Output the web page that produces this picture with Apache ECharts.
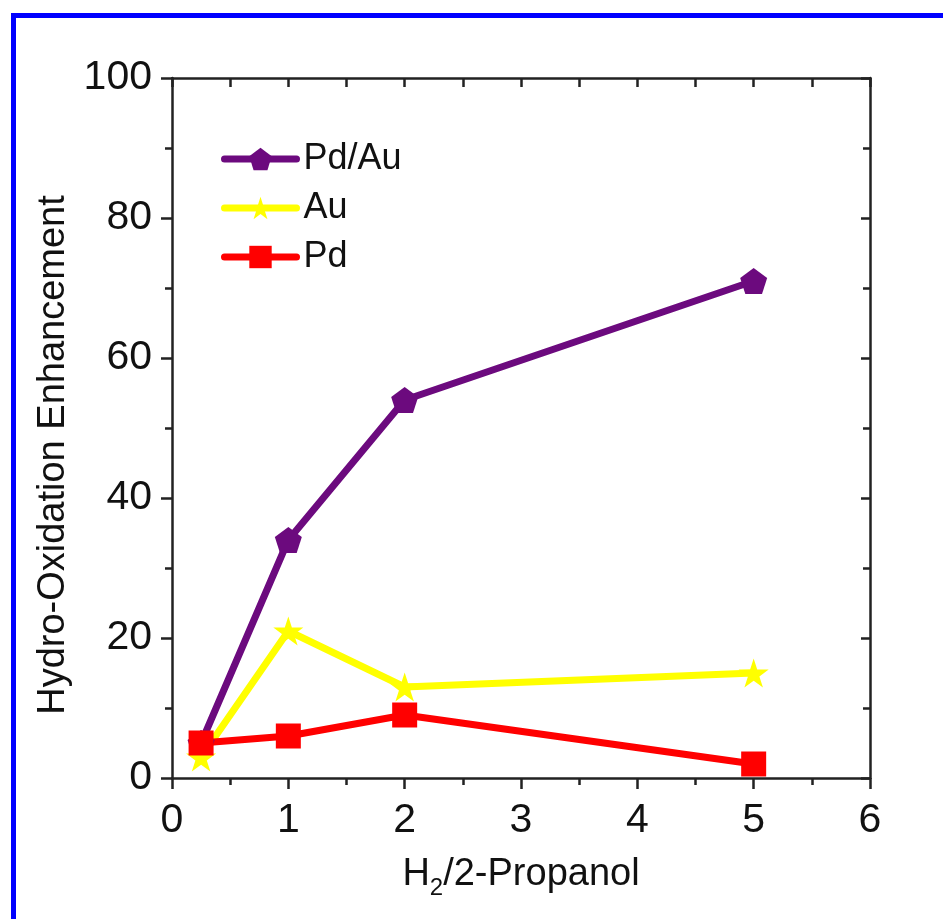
<!DOCTYPE html>
<html>
<head>
<meta charset="utf-8">
<script src="https://cdn.jsdelivr.net/npm/echarts@6/dist/echarts.min.js"></script>
<style>
  html, body { margin: 0; padding: 0; background: #fff; }
  #chart { width: 943px; height: 919px; }
</style>
</head>
<body>
<div id="chart"></div>
<script>
// H2/2-propanol ratio
const ratios = [0.25, 1, 2, 5];
const pdAu = [5, 34, 54, 71];
const au = [3, 21, 13, 15];
const pd = [5, 6, 9, 2];

const xTicks = { min: 0, max: 6, interval: 1 };
const yTicks = { min: 0, max: 100, interval: 20 };

const font = "Liberation Sans, Arial, Helvetica, sans-serif";
const pentagon = "path://M0,-1 L0.951,-0.309 L0.588,0.809 L-0.588,0.809 L-0.951,-0.309 Z";
const star = "path://M0,-1 L0.2245,-0.309 L0.951,-0.309 L0.363,0.118 L0.588,0.809 L0,0.382 L-0.588,0.809 L-0.363,0.118 L-0.951,-0.309 L-0.2245,-0.309 Z";

const pairs = (ys) => ratios.map((x, i) => [x, ys[i]]);

const axisLine = { show: true, onZero: false, lineStyle: { color: "#222", width: 2.5 } };
const tickStyle = { color: "#222", width: 2.5 };

const chart = echarts.init(document.getElementById("chart"));
chart.setOption({
  animation: false,
  backgroundColor: "#fff",
  graphic: [{
    type: "rect",
    left: 11, top: 13,
    shape: { width: 1000, height: 1000 },
    style: { fill: "none", stroke: "#0000ff", lineWidth: 5 },
    silent: true
  }],
  grid: { left: 172, right: 73, top: 78, bottom: 141 },
  legend: {
    orient: "vertical",
    left: 216, top: 136,
    itemWidth: 72, itemHeight: 28, itemGap: 13,
    lineStyle: { width: 7, cap: "round" },
    textStyle: { fontFamily: font, fontSize: 36, color: "#111", padding: [0, 0, 0, 2] },
    data: ["Pd/Au", "Au", "Pd"]
  },
  xAxis: [{
    type: "value", position: "bottom", ...xTicks,
    name: "{a|H}{s|2}{a|/2-Propanol}",
    nameLocation: "middle", nameGap: 72,
    nameTextStyle: {
      rich: {
        a: { fontFamily: font, fontSize: 38, color: "#111" },
        s: { fontFamily: font, fontSize: 24, color: "#111", padding: [26, 0, 0, 0] }
      }
    },
    axisLine,
    axisTick: { show: true, inside: false, length: 11, lineStyle: tickStyle },
    minorTick: { show: true, splitNumber: 2, length: 7, lineStyle: tickStyle },
    axisLabel: { fontFamily: font, fontSize: 41, color: "#111", margin: 22 },
    splitLine: { show: false }
  }, {
    type: "value", position: "top", ...xTicks,
    axisLine,
    axisTick: { show: true, inside: true, length: 9, lineStyle: tickStyle },
    minorTick: { show: true, splitNumber: 2, length: 9, lineStyle: tickStyle },
    axisLabel: { show: false },
    splitLine: { show: false }
  }],
  yAxis: [{
    type: "value", position: "left", ...yTicks,
    name: "Hydro-Oxidation Enhancement",
    nameLocation: "middle", nameGap: 84,
    nameTextStyle: { fontFamily: font, fontSize: 38, color: "#111", padding: [0, 54, 0, 0] },
    axisLine,
    axisTick: { show: true, inside: false, length: 11, lineStyle: tickStyle },
    minorTick: { show: true, splitNumber: 2, length: 7, lineStyle: tickStyle },
    axisLabel: { fontFamily: font, fontSize: 41, color: "#111", margin: 20 },
    splitLine: { show: false }
  }, {
    type: "value", position: "right", ...yTicks,
    axisLine,
    axisTick: { show: true, inside: true, length: 9, lineStyle: tickStyle },
    minorTick: { show: true, splitNumber: 2, length: 7, lineStyle: tickStyle },
    axisLabel: { show: false },
    splitLine: { show: false }
  }],
  series: [{
    name: "Pd/Au", type: "line", data: pairs(pdAu),
    symbol: pentagon, symbolSize: [27, 26],
    lineStyle: { color: "#6c0a7e", width: 7, cap: "round" },
    itemStyle: { color: "#6c0a7e" }
  }, {
    name: "Au", type: "line", data: pairs(au),
    symbol: star, symbolSize: [30, 29],
    lineStyle: { color: "#ffff00", width: 7, cap: "round" },
    itemStyle: { color: "#ffff00" }
  }, {
    name: "Pd", type: "line", data: pairs(pd),
    symbol: "rect", symbolSize: 25,
    lineStyle: { color: "#ff0000", width: 7, cap: "round" },
    itemStyle: { color: "#ff0000" }
  }]
});
</script>
</body>
</html>
